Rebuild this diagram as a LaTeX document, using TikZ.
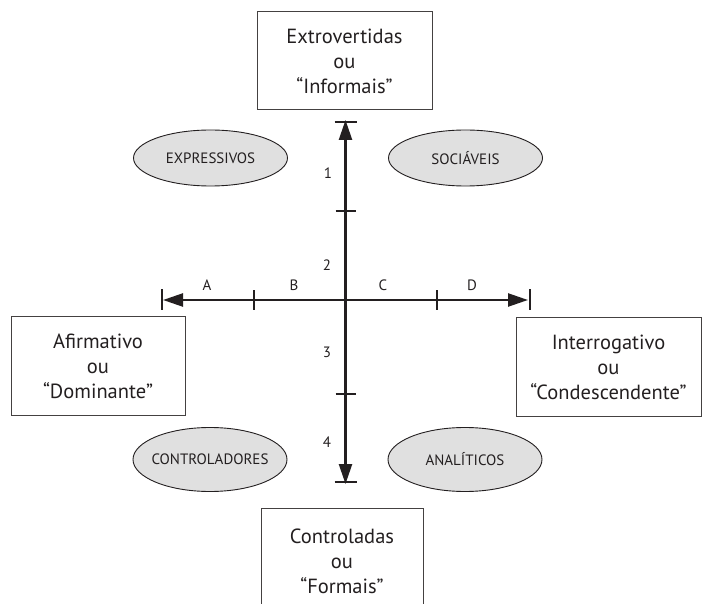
\documentclass[tikz,border=0pt]{standalone}
\usepackage{fontspec}
\setmainfont{PT Sans}
\usetikzlibrary{arrows.meta,shapes.geometric}
\definecolor{ink}{HTML}{231F20}
\definecolor{ovalfill}{HTML}{E0E0E0}
\tikzset{
  px/.style={x=1pt,y=-1pt},
  bigbox/.style={draw=ink!85,line width=1pt,rectangle,align=center,inner sep=0pt,
    font=\fontsize{20.5}{25}\selectfont,text=ink},
  oval/.style={draw=ink,line width=0.9pt,fill=ovalfill,ellipse,inner xsep=-14pt,
    inner ysep=0pt,minimum width=154pt,font=\fontsize{15}{16}\selectfont,text=ink},
  axis/.style={draw=ink,line width=2.4pt,-{Triangle[length=20pt,width=13pt]}},
  tickmark/.style={draw=ink,line width=2.2pt},
  lbl/.style={font=\fontsize{15}{16}\selectfont,text=ink,inner sep=0pt}
}
\begin{document}
\begin{tikzpicture}[px]
\useasboundingbox (0,0) rectangle (702,604);
\clip (0,0) rectangle (702,604);

% boxes at the ends of the axes
\node[bigbox,minimum width=175pt,minimum height=98pt] (top) at (344.5,61)
  {Extrovertidas\\ou\\“Informais”};
\node[bigbox,minimum width=174pt,minimum height=98pt] (left) at (98,366)
  {Afirmativo\\ou\\“Dominante”};
\node[bigbox,minimum width=185pt,minimum height=98pt] (right) at (608.5,367)
  {Interrogativo\\ou\\“Condescendente”};
\node[bigbox,minimum width=162pt,minimum height=106pt] (bottom) at (342,561)
  {Controladas\\ou\\“Formais”};

% quadrant ovals
\node[oval,minimum height=56pt] (expr) at (210.5,158) {EXPRESSIVOS};
\node[oval,minimum height=56pt] (soc) at (465.5,158) {SOCIÁVEIS};
\node[oval,minimum height=64pt] (ctrl) at (210,459.5) {CONTROLADORES};
\node[oval,minimum height=64pt] (anal) at (465,459.5) {ANALÍTICOS};

% axis ends and ticks
\coordinate (o) at (345.5,300);
\coordinate (n) at (345.5,120);
\coordinate (s) at (345.5,484);
\coordinate (w) at (163,300);
\coordinate (e) at (528,300);
\coordinate (tn) at (345.5,211);
\coordinate (ts) at (345.5,394);
\coordinate (tw) at (254,300);
\coordinate (te) at (437,300);

\draw[axis] (o) -- (n);
\draw[axis] (o) -- (s);
\draw[axis] (o) -- (w);
\draw[axis] (o) -- (e);

% end bars
\draw[tickmark] ([xshift=-11pt,yshift=-2pt]n) -- ([xshift=11pt,yshift=-2pt]n);
\draw[tickmark] ([xshift=-11pt,yshift=2pt]s) -- ([xshift=11pt,yshift=2pt]s);
\draw[tickmark] ([xshift=-1pt,yshift=-10pt]w) -- ([xshift=-1pt,yshift=11pt]w);
\draw[tickmark] ([xshift=2pt,yshift=-10pt]e) -- ([xshift=2pt,yshift=11pt]e);

% interior ticks
\draw[tickmark] ([xshift=-10pt]tn) -- ([xshift=10pt]tn);
\draw[tickmark] ([xshift=-10pt]ts) -- ([xshift=10pt]ts);
\draw[tickmark] ([yshift=-10pt]tw) -- ([yshift=10pt]tw);
\draw[tickmark] ([yshift=-10pt]te) -- ([yshift=10pt]te);
\draw[draw=ink,line width=1.4pt] ([xshift=-10pt]o) -- ([xshift=10pt]o);

% segment labels
\node[lbl] (l1) at (328,173) {1};
\node[lbl] (l2) at (327,265) {2};
\node[lbl] (l3) at (327,352) {3};
\node[lbl] (l4) at (327,442) {4};
\node[lbl] (la) at (207,285) {A};
\node[lbl] (lb) at (294,285) {B};
\node[lbl] (lc) at (383,285) {C};
\node[lbl] (ld) at (472,285) {D};
\end{tikzpicture}
\end{document}
